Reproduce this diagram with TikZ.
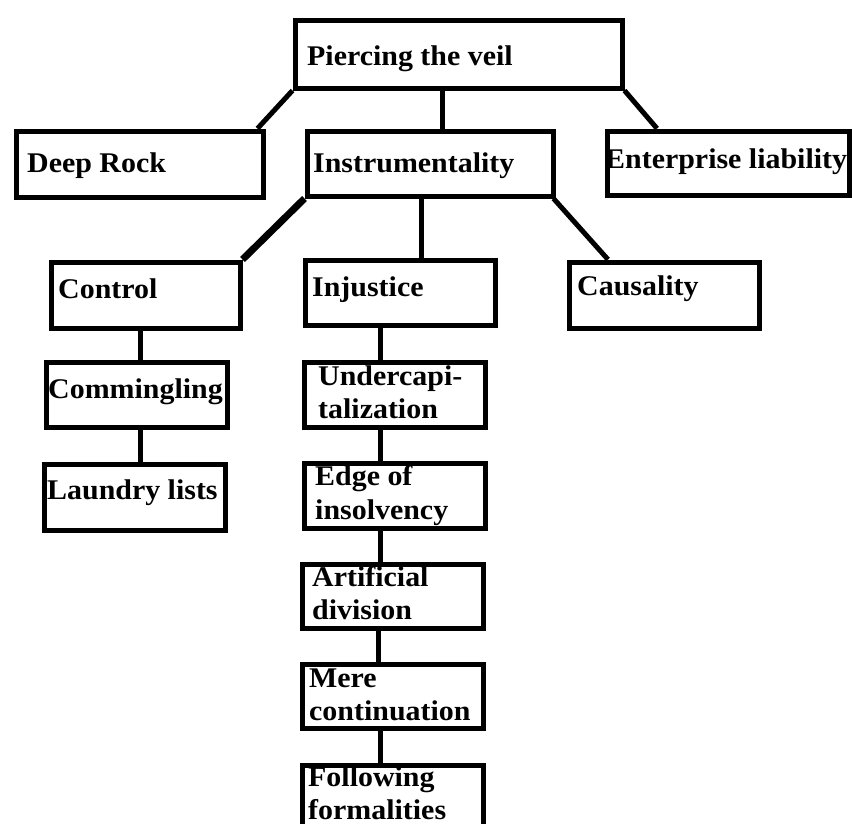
\documentclass[tikz,border=0pt]{standalone}
\usepackage{fontspec}
\setmainfont{Liberation Serif}[FakeStretch=1.05]
\usetikzlibrary{calc}
\begin{document}
\begin{tikzpicture}[x=1pt,y=-1pt,
  box/.style={draw,line width=5pt,inner sep=0pt,anchor=north west},
  lbl/.style={anchor=base west,inner sep=0pt,font=\fontsize{28.5}{34}\selectfont\bfseries},
  conn/.style={line width=5pt},
  thickconn/.style={line width=7pt}]
\useasboundingbox (0,0) rectangle (852,823);
% boxes
\node[box,minimum width=327pt,minimum height=68pt] (pv)  at (292.5,17.5) {};
\node[box,minimum width=247pt,minimum height=66pt] (dr)  at (13.5,128.5) {};
\node[box,minimum width=246pt,minimum height=65pt] (ins) at (304.5,128.5) {};
\node[box,minimum width=242pt,minimum height=64pt] (ent) at (604.5,128.5) {};
\node[box,minimum width=189pt,minimum height=66pt] (ctl) at (48.5,259.5) {};
\node[box,minimum width=190pt,minimum height=65pt] (inj) at (302.5,257.5) {};
\node[box,minimum width=190pt,minimum height=66pt] (cau) at (566.5,259.5) {};
\node[box,minimum width=181pt,minimum height=65pt] (com) at (43.5,359.5) {};
\node[box,minimum width=181pt,minimum height=66pt] (lau) at (41.5,461.5) {};
\node[box,minimum width=181pt,minimum height=65pt] (und) at (301.5,359.5) {};
\node[box,minimum width=181pt,minimum height=65pt] (edg) at (301.5,460.5) {};
\node[box,minimum width=181pt,minimum height=64pt] (art) at (299.5,561.5) {};
\node[box,minimum width=181pt,minimum height=64pt] (mer) at (299.5,661.5) {};
\node[box,minimum width=181pt,minimum height=70pt] (fol) at (299.5,762.5) {};
% labels
\node[lbl] (tpv) at (307,65) {Piercing the veil};
\node[lbl] (tdr) at (27,172) {Deep Rock};
\node[lbl] (tins) at (313,172) {Instrumentality};
\node[lbl] (tent) at (605,168) {Enterprise liability};
\node[lbl] (tctl) at (58,298) {Control};
\node[lbl] (tinj) at (312,296) {Injustice};
\node[lbl] (tcau) at (577,295) {Causality};
\node[lbl] (tcom) at (48,398) {Commingling};
\node[lbl] (tlau) at (47,499) {Laundry lists};
\node[lbl] (tund1) at (318,385) {Undercapi-};
\node[lbl] (tund2) at (318,418) {talization};
\node[lbl] (tedg1) at (315,485) {Edge of};
\node[lbl] (tedg2) at (315,519) {insolvency};
\node[lbl] (tart1) at (312,586) {Artificial};
\node[lbl] (tart2) at (312,619) {division};
\node[lbl] (tmer1) at (309,687) {Mere};
\node[lbl] (tmer2) at (309,720) {continuation};
\node[lbl] (tfol1) at (308,786) {Following};
\node[lbl] (tfol2) at (308,819) {formalities};
% connectors
\draw[conn] (pv.south west) -- ($(dr.north east)+(-8,0)$);
\draw[conn] ($(pv.south west)+(149.5,0)$) coordinate (a1) -- (a1 |- ins.north);
\draw[conn] (pv.south east) -- ($(ent.north west)+(52.5,0)$);
\draw[thickconn] (ins.south west) -- (ctl.north east);
\draw[conn] ($(ins.south west)+(116.5,0)$) coordinate (a2) -- (a2 |- inj.north);
\draw[conn] ($(ins.south east)+(-2,0)$) -- ($(cau.north west)+(41.5,0)$);
\draw[conn] ($(ctl.south west)+(91.5,0)$) coordinate (a3) -- (a3 |- com.north);
\draw[conn] (a3 |- com.south) -- (a3 |- lau.north);
\draw[conn] ($(inj.south west)+(77.5,0)$) coordinate (a4) -- (a4 |- und.north);
\draw[conn] (a4 |- und.south) -- (a4 |- edg.north);
\draw[conn] (a4 |- edg.south) -- (a4 |- art.north);
\draw[conn] ($(art.south west)+(78.5,0)$) coordinate (a5) -- (a5 |- mer.north);
\draw[conn] ($(mer.south west)+(80.5,0)$) coordinate (a6) -- (a6 |- fol.north);
\end{tikzpicture}
\end{document}
